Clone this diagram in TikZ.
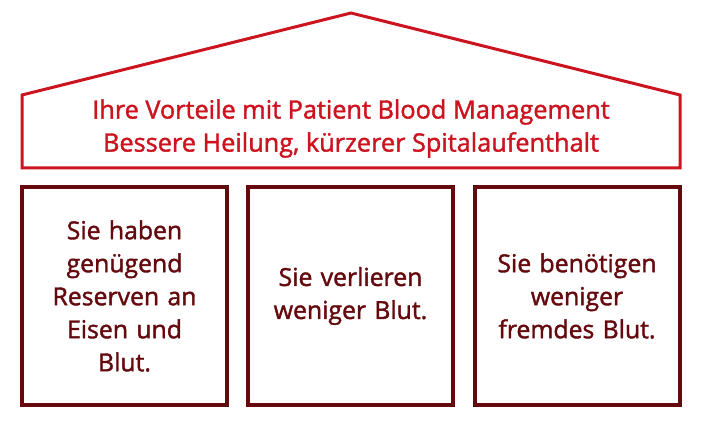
\documentclass[tikz,border=0pt]{standalone}
\usepackage{fontspec}
\setmainfont{Open Sans}[FakeBold=1.6]
\definecolor{roofred}{HTML}{CC1420}
\definecolor{maroon}{HTML}{640A0E}
\begin{document}
\begin{tikzpicture}[x=1pt,y=-1pt,
  roofline/.style={draw=roofred,line width=3pt,line join=miter},
  pillar/.style={draw=maroon,line width=4pt,minimum width=205pt,minimum height=218pt,inner sep=0pt},
  pillartext/.style={text=maroon,font=\fontsize{24.8}{33}\selectfont,align=center,text width=195pt},
  rooftext/.style={text=roofred,font=\fontsize{25.3}{33}\selectfont,align=center}]
\useasboundingbox (0,0) rectangle (704,427);
\coordinate (peak) at (351,13);
\coordinate (leftEave) at (22,95);
\coordinate (leftBase) at (22,168);
\coordinate (rightBase) at (680,168);
\coordinate (rightEave) at (680,95);
\draw[roofline] (peak) -- (leftEave) -- (leftBase) -- (rightBase) -- (rightEave) -- cycle;
\node[rooftext] (title) at (351,128.5) {Ihre Vorteile mit Patient Blood Management\\Bessere Heilung, kürzerer Spitalaufenthalt};
\node[pillar] (p1) at (124.5,296) {};
\node[pillar] (p2) at (350.5,296) {};
\node[pillar] (p3) at (577,296) {};
\node[pillartext] (t1) at (p1) {Sie haben\\genügend\\Reserven an\\Eisen und\\Blut.};
\node[pillartext] (t2) at (p2) {Sie verlieren\\weniger Blut.};
\node[pillartext] (t3) at (p3) {Sie benötigen\\weniger\\fremdes Blut.};
\end{tikzpicture}
\end{document}
